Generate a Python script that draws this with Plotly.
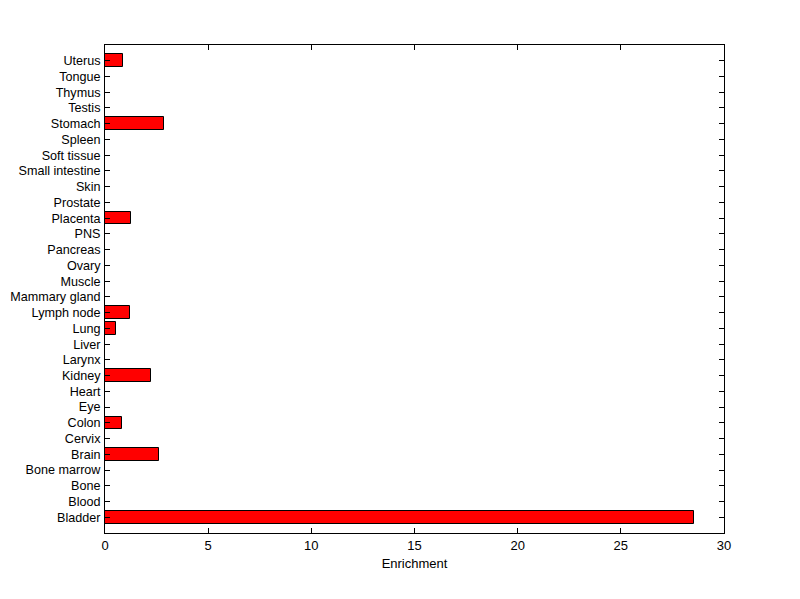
import plotly.graph_objects as go

tissues = ["Bladder", "Blood", "Bone", "Bone marrow", "Brain", "Cervix", "Colon", "Eye",
           "Heart", "Kidney", "Larynx", "Liver", "Lung", "Lymph node", "Mammary gland",
           "Muscle", "Ovary", "Pancreas", "PNS", "Placenta", "Prostate", "Skin",
           "Small intestine", "Soft tissue", "Spleen", "Stomach", "Testis", "Thymus",
           "Tongue", "Uterus"]
enrichment = [28.56, 0, 0, 0, 2.63, 0, 0.84, 0,
              0, 2.24, 0, 0, 0.55, 1.23, 0,
              0, 0, 0, 0, 1.27, 0, 0,
              0, 0, 0, 2.87, 0, 0,
              0, 0.85]
x_ticks = [0, 5, 10, 15, 20, 25, 30]

positions = list(range(len(tissues)))

fig = go.Figure()
fig.add_trace(go.Bar(
    x=enrichment, y=positions, orientation="h", width=0.8,
    marker=dict(color="#ff0000", line=dict(color="black", width=1)),
))
fig.update_layout(
    width=800, height=599,
    paper_bgcolor="white", plot_bgcolor="white",
    margin=dict(l=97, r=84, t=37, b=74),
    showlegend=False,
    font=dict(family="Liberation Sans, Arial, sans-serif", size=13, color="black"),
    bargap=0,
)
fig.update_xaxes(
    range=[0, 30], tickvals=x_ticks, ticktext=[str(v) for v in x_ticks],
    ticks="inside", ticklen=5, tickcolor="black", mirror="ticks",
    showline=True, linecolor="black", linewidth=1, showgrid=False, zeroline=False,
    title=dict(text="Enrichment", standoff=7, font=dict(size=13)),
    automargin=False,
)
fig.update_yaxes(
    range=[-1, len(tissues)], tickvals=positions, ticktext=tissues,
    ticks="inside", ticklen=5, tickcolor="black", mirror="ticks",
    showline=True, linecolor="black", linewidth=1, showgrid=False, zeroline=False,
    automargin=False, ticklabelstandoff=1, tickfont=dict(size=12.6),
)
fig.write_html("out.html")
